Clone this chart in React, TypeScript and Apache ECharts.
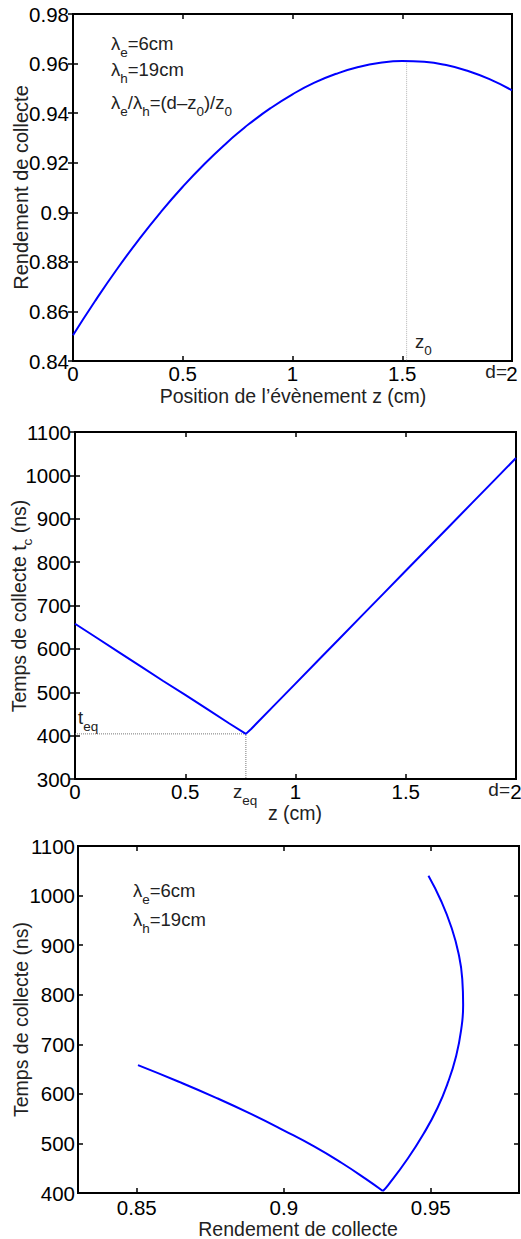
import React, { useEffect, useRef } from "react";
import * as echarts from "echarts";

// ---- data ----
const zPositions = [0, 0.1, 0.2, 0.3, 0.4, 0.5, 0.6, 0.7, 0.775, 0.8, 0.9, 1.0, 1.1, 1.2, 1.3, 1.4, 1.5, 1.6, 1.7, 1.8, 1.9, 2.0];
const efficiency = [0.8504, 0.8641, 0.877, 0.889, 0.9001, 0.9103, 0.9196, 0.928, 0.9337, 0.9355, 0.942, 0.9476, 0.9523, 0.9559, 0.9586, 0.9603, 0.961, 0.9607, 0.9594, 0.957, 0.9536, 0.9492];
const collectionTime = [658, 625, 592, 559, 526, 494, 461, 428, 404, 416, 468, 520, 572, 624, 676, 728, 780, 832, 884, 936, 988, 1040];
const zOptimum = 1.52;
const etaOptimum = 0.9611;
const zEq = 0.775;
const tEq = 404;
const effTicksPanel3 = [0.85, 0.9, 0.95];
const minBranchIndex = 8; // index of z_eq in zPositions

const FONT = "Liberation Sans, Arial, Helvetica, sans-serif";
const TICK_SIZE = 20.5;
const TITLE_SIZE = 19.5;
const TXT = "#222";

const fmt = (v: number) => String(parseFloat(v.toFixed(4)));

function bottomX(gridIndex: number, min: number, max: number, interval: number | undefined, margin: number, custom?: number[]) {
  const ax: any = {
    type: "value", gridIndex, min, max, position: "bottom",
    axisLine: { show: false }, splitLine: { show: false },
    axisTick: { show: true, inside: true, length: 5, lineStyle: { color: "#000", width: 1.5 } },
    axisLabel: { show: true, color: "#000", fontSize: TICK_SIZE, fontFamily: FONT, margin, formatter: fmt, showMinLabel: true, showMaxLabel: true, hideOverlap: false },
  };
  if (interval !== undefined) ax.interval = interval;
  if (custom) { ax.axisTick.customValues = custom; ax.axisLabel.customValues = custom; }
  return ax;
}
function topX(gridIndex: number, min: number, max: number, interval: number | undefined, custom?: number[]) {
  const ax: any = {
    type: "value", gridIndex, min, max, position: "top",
    axisLine: { show: false }, splitLine: { show: false },
    axisTick: { show: true, inside: true, length: 5, lineStyle: { color: "#000", width: 1.5 } },
    axisLabel: { show: false },
  };
  if (interval !== undefined) ax.interval = interval;
  if (custom) { ax.axisTick.customValues = custom; }
  return ax;
}
function leftY(gridIndex: number, min: number, max: number, interval: number, margin: number) {
  return {
    type: "value", gridIndex, min, max, interval, position: "left",
    axisLine: { show: false }, splitLine: { show: false },
    axisTick: { show: true, inside: true, length: 5, lineStyle: { color: "#000", width: 1.5 } },
    axisLabel: { show: true, color: "#000", fontSize: TICK_SIZE, fontFamily: FONT, margin, formatter: fmt, showMinLabel: true, showMaxLabel: true, hideOverlap: false },
  };
}
function rightY(gridIndex: number, min: number, max: number, interval: number) {
  return {
    type: "value", gridIndex, min, max, interval, position: "right",
    axisLine: { show: false }, splitLine: { show: false },
    axisTick: { show: true, inside: true, length: 5, lineStyle: { color: "#000", width: 1.5 } },
    axisLabel: { show: false },
  };
}

function makeRich(size: number) {
  return {
    m: { fontSize: size, lineHeight: 32, fill: TXT, fontFamily: FONT },
    s: { fontSize: 13.5, lineHeight: 14, verticalAlign: "bottom", fill: TXT, fontFamily: FONT },
  };
}

function label(x: number, y: number, text: string, align = "left", rotation = 0, size = 18.5) {
  return {
    type: "text", x, y, rotation, silent: true, z: 100,
    style: { text, align, verticalAlign: "middle", fontFamily: FONT, fontSize: size, fill: TXT, rich: makeRich(size) },
  };
}

const gridBase = { show: true, borderColor: "#000", borderWidth: 2, backgroundColor: "transparent", containLabel: false, outerBoundsMode: "none" };

export default function App() {
  const ref = useRef<HTMLDivElement>(null);
  useEffect(() => {
    document.body.style.margin = "0";
    document.body.style.overflow = "hidden";
    const chart = echarts.init(ref.current!, null, { renderer: "svg" });
    const blue = { color: "#0000ff", width: 2 };
    const p1 = zPositions.map((z, i) => [z, efficiency[i]]);
    const p2 = zPositions.map((z, i) => [z, collectionTime[i]]);
    const p3 = zPositions.map((_, i) => [efficiency[i], collectionTime[i]]);
    chart.setOption({
      animation: false,
      backgroundColor: "#fff",
      grid: [
        { ...gridBase, left: 73, top: 14, width: 439, height: 347 },
        { ...gridBase, left: 75, top: 432, width: 441, height: 347 },
        { ...gridBase, left: 78, top: 846, width: 441, height: 347 },
      ],
      xAxis: [
        bottomX(0, 0, 2, 0.5, 2),
        topX(0, 0, 2, 0.5),
        bottomX(1, 0, 2, 0.5, 2),
        topX(1, 0, 2, 0.5),
        bottomX(2, 0.83, 0.98, undefined, 4, effTicksPanel3),
        topX(2, 0.83, 0.98, undefined, effTicksPanel3),
      ],
      yAxis: [
        leftY(0, 0.84, 0.98, 0.02, 4),
        rightY(0, 0.84, 0.98, 0.02),
        leftY(1, 300, 1100, 100, 4),
        rightY(1, 300, 1100, 100),
        leftY(2, 400, 1100, 100, 3),
        rightY(2, 400, 1100, 100),
      ],
      series: [
        { type: "line", xAxisIndex: 0, yAxisIndex: 0, data: [[zOptimum, etaOptimum], [zOptimum, 0.84]], symbol: "none", lineStyle: { color: "#b5b5b5", width: 1, type: "dotted" }, silent: true },
        { type: "line", xAxisIndex: 0, yAxisIndex: 0, data: p1, smooth: true, symbol: "none", lineStyle: blue },
        { type: "line", xAxisIndex: 2, yAxisIndex: 2, data: [[0, tEq], [zEq, tEq], [zEq, 300]], symbol: "none", lineStyle: { color: "#777", width: 1, type: "dotted" }, silent: true },
        { type: "line", xAxisIndex: 2, yAxisIndex: 2, data: p2, symbol: "none", lineStyle: blue },
        { type: "line", xAxisIndex: 4, yAxisIndex: 4, data: p3.slice(0, minBranchIndex + 1), smooth: true, symbol: "none", lineStyle: blue },
        { type: "line", xAxisIndex: 4, yAxisIndex: 4, data: p3.slice(minBranchIndex), smooth: true, symbol: "none", lineStyle: blue },
      ],
      graphic: [
        // panel 1
        label(20.5, 187.5, "Rendement de collecte", "center", Math.PI / 2, TITLE_SIZE + 0.5),
        label(293, 396, "Position de l\u2019\u00e9v\u00e8nement z (cm)", "center", 0, TITLE_SIZE),
        label(111, 43, "{m|\u03bb}{s|e}{m|=6cm}"),
        label(111, 69, "{m|\u03bb}{s|h}{m|=19cm}"),
        label(111, 102, "{m|\u03bb}{s|e}{m|/\u03bb}{s|h}{m|=(d\u2013z}{s|0}{m|)/z}{s|0}"),
        label(415, 341, "{m|z}{s|0}"),
        label(507, 371, "d=", "right", 0, 19),
        // panel 2
        label(18.5, 606, "{m|Temps de collecte t}{s|c}{m| (ns)}", "center", Math.PI / 2, TITLE_SIZE),
        label(295, 813, "z (cm)", "center", 0, TITLE_SIZE),
        label(78, 717, "{m|t}{s|eq}"),
        label(233, 791, "{m|z}{s|eq}"),
        label(510, 789, "d=", "right", 0, 19),
        // panel 3
        label(20.5, 1019.5, "Temps de collecte (ns)", "center", Math.PI / 2, TITLE_SIZE),
        label(298, 1229, "Rendement de collecte", "center", 0, TITLE_SIZE),
        label(133, 890, "{m|\u03bb}{s|e}{m|=6cm}"),
        label(133, 919, "{m|\u03bb}{s|h}{m|=19cm}"),
      ],
    });
    return () => chart.dispose();
  }, []);
  return <div ref={ref} style={{ width: 521, height: 1239 }} />;
}
